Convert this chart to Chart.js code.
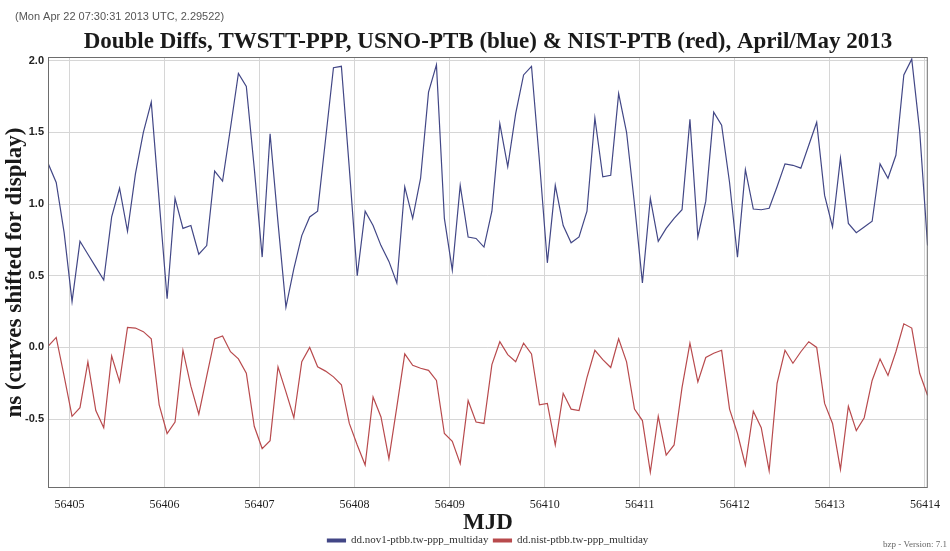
<!DOCTYPE html>
<html>
<head>
<meta charset="utf-8">
<script src="https://cdn.jsdelivr.net/npm/chart.js@4.4.1/dist/chart.umd.min.js"></script>
<style>
  html, body { margin: 0; padding: 0; background: #fff; }
  canvas { display: block; }
</style>
</head>
<body>
<canvas id="ddChart" width="950" height="551"></canvas>
<script>
// samples every 2 hours, first one just left of MJD 56405
var mjdStart = 56404.778;
var mjdStep = 1 / 12;

// USNO-PTB (blue), ns, shifted up for display
var usnoPtb = [
  1.28, 1.15, 0.80, 0.32, 0.74, 0.65, 0.56, 0.47, 0.91, 1.11, 0.81, 1.21,
  1.50, 1.71, 1.02, 0.34, 1.04, 0.83, 0.85, 0.65, 0.71, 1.23, 1.16, 1.53,
  1.91, 1.82, 1.25, 0.63, 1.49, 0.87, 0.28, 0.55, 0.78, 0.91, 0.95, 1.45,
  1.95, 1.96, 1.25, 0.50, 0.95, 0.85, 0.71, 0.60, 0.45, 1.12, 0.90, 1.18,
  1.78, 1.97, 0.90, 0.54, 1.13, 0.77, 0.76, 0.70, 0.95, 1.56, 1.26, 1.63,
  1.90, 1.96, 1.30, 0.59, 1.13, 0.85, 0.73, 0.77, 0.95, 1.60, 1.19, 1.20,
  1.77, 1.50, 1.00, 0.45, 1.04, 0.74, 0.83, 0.90, 0.96, 1.59, 0.77, 1.02,
  1.64, 1.55, 1.15, 0.63, 1.24, 0.965, 0.96, 0.97, 1.12, 1.28, 1.27, 1.25,
  1.41, 1.57, 1.06, 0.84, 1.32, 0.865, 0.80, 0.84, 0.88, 1.28, 1.18, 1.34,
  1.90, 2.01, 1.51, 0.71
];

// NIST-PTB (red), ns
var nistPtb = [
  0.01, 0.07, -0.20, -0.48, -0.42, -0.10, -0.44, -0.56, -0.06, -0.24, 0.14, 0.135,
  0.11, 0.06, -0.40, -0.60, -0.52, -0.02, -0.27, -0.465, -0.20, 0.06, 0.08, -0.03,
  -0.08, -0.18, -0.55, -0.705, -0.65, -0.135, -0.31, -0.49, -0.10, 0.00, -0.135, -0.165,
  -0.205, -0.26, -0.53, -0.68, -0.82, -0.345, -0.485, -0.775, -0.415, -0.045, -0.125, -0.145,
  -0.16, -0.23, -0.60, -0.655, -0.81, -0.37, -0.52, -0.53, -0.12, 0.04, -0.05, -0.10,
  0.03, -0.045, -0.40, -0.39, -0.68, -0.32, -0.43, -0.44, -0.21, -0.02, -0.085, -0.14,
  0.06, -0.10, -0.43, -0.51, -0.87, -0.48, -0.75, -0.68, -0.28, 0.03, -0.24, -0.07,
  -0.04, -0.02, -0.43, -0.60, -0.82, -0.445, -0.56, -0.86, -0.25, -0.02, -0.11, -0.03,
  0.04, 0.00, -0.39, -0.53, -0.85, -0.41, -0.58, -0.49, -0.23, -0.08, -0.195, -0.03,
  0.165, 0.135, -0.18, -0.335
];

var xTicks = [56405, 56406, 56407, 56408, 56409, 56410, 56411, 56412, 56413, 56414];
var yTicks = [-0.5, 0.0, 0.5, 1.0, 1.5, 2.0];

function toPoints(values) {
  var pts = [];
  for (var i = 0; i < values.length; i++) {
    pts.push({ x: mjdStart + i * mjdStep, y: values[i] });
  }
  return pts;
}

var serif = '"Liberation Serif", "Times New Roman", serif';
var sans = '"Liberation Sans", Arial, sans-serif';

// plot frame + the two small notes (timestamp, version)
var decorations = {
  id: 'decorations',
  afterDraw: function (chart) {
    var ctx = chart.ctx;
    var a = chart.chartArea;
    ctx.save();
    ctx.strokeStyle = '#6d6d6d';
    ctx.lineWidth = 1;
    ctx.strokeRect(a.left + 0.5, a.top + 0.5, a.right - a.left - 1, a.bottom - a.top - 1);

    ctx.fillStyle = '#555';
    ctx.font = '11px ' + sans;
    ctx.textBaseline = 'middle';
    ctx.textAlign = 'left';
    ctx.fillText('(Mon Apr 22 07:30:31 2013 UTC, 2.29522)', 15, 17);

    ctx.fillStyle = '#666';
    ctx.font = '9px ' + serif;
    ctx.fillText('bzp - Version: 7.1', 883, 545);
    ctx.restore();
  }
};

var ctx = document.getElementById('ddChart');
var ddChart = new Chart(ctx, {
  type: 'line',
  data: {
    datasets: [{
      label: 'dd.nov1-ptbb.tw-ppp_multiday',
      data: toPoints(usnoPtb),
      borderColor: '#424786',
      backgroundColor: '#424786',
      borderWidth: 1.2,
      pointRadius: 0,
      tension: 0
    }, {
      label: 'dd.nist-ptbb.tw-ppp_multiday',
      data: toPoints(nistPtb),
      borderColor: '#b84a4d',
      backgroundColor: '#b84a4d',
      borderWidth: 1.2,
      pointRadius: 0,
      tension: 0
    }]
  },
  options: {
    responsive: false,
    animation: false,
    devicePixelRatio: 1,
    layout: {
      padding: { top: 20, right: 20, bottom: 0, left: 0 }
    },
    scales: {
      x: {
        type: 'linear',
        min: 56404.775,
        max: 56414.03,
        afterBuildTicks: function (scale) {
          scale.ticks = xTicks.map(function (v) { return { value: v }; });
        },
        afterFit: function (scale) { scale.height = 42; },
        grid: { color: '#d6d6d6', lineWidth: 1, drawTicks: false },
        border: { display: false },
        ticks: {
          padding: 10,
          color: '#1e1e1e',
          font: { family: serif, size: 12 },
          maxRotation: 0,
          autoSkip: false,
          callback: function (v) { return String(v); }
        },
        title: {
          display: true,
          text: 'MJD',
          color: '#1a1a1a',
          font: { family: serif, size: 23, weight: 'bold', lineHeight: 0.6 },
          padding: { top: 0, bottom: 0 }
        }
      },
      y: {
        min: -0.98,
        max: 2.025,
        afterBuildTicks: function (scale) {
          scale.ticks = yTicks.map(function (v) { return { value: v }; });
        },
        afterFit: function (scale) { scale.width = 48; },
        grid: { color: '#d6d6d6', lineWidth: 1, drawTicks: false },
        border: { display: false },
        ticks: {
          padding: 4,
          color: '#222',
          font: { family: sans, size: 11, weight: 'bold' },
          callback: function (v) { return v.toFixed(1); }
        },
        title: {
          display: true,
          text: 'ns (curves shifted for display)',
          color: '#1a1a1a',
          font: { family: serif, size: 23, weight: 'bold', lineHeight: 1 },
          padding: { top: 3.5, bottom: 0 }
        }
      }
    },
    plugins: {
      title: {
        display: true,
        fullSize: false,
        text: 'Double Diffs, TWSTT-PPP, USNO-PTB (blue) & NIST-PTB (red), April/May 2013',
        color: '#1a1a1a',
        font: { family: serif, size: 23, weight: 'bold', lineHeight: 1 },
        padding: { top: 10.5, bottom: 3.5 }
      },
      legend: {
        display: true,
        position: 'bottom',
        fullSize: false,
        maxHeight: 21,
        labels: {
          boxWidth: 18,
          boxHeight: 3,
          padding: 5,
          color: '#333',
          font: { family: serif, size: 11 }
        }
      },
      tooltip: { enabled: false }
    }
  },
  plugins: [decorations]
});
</script>
</body>
</html>
